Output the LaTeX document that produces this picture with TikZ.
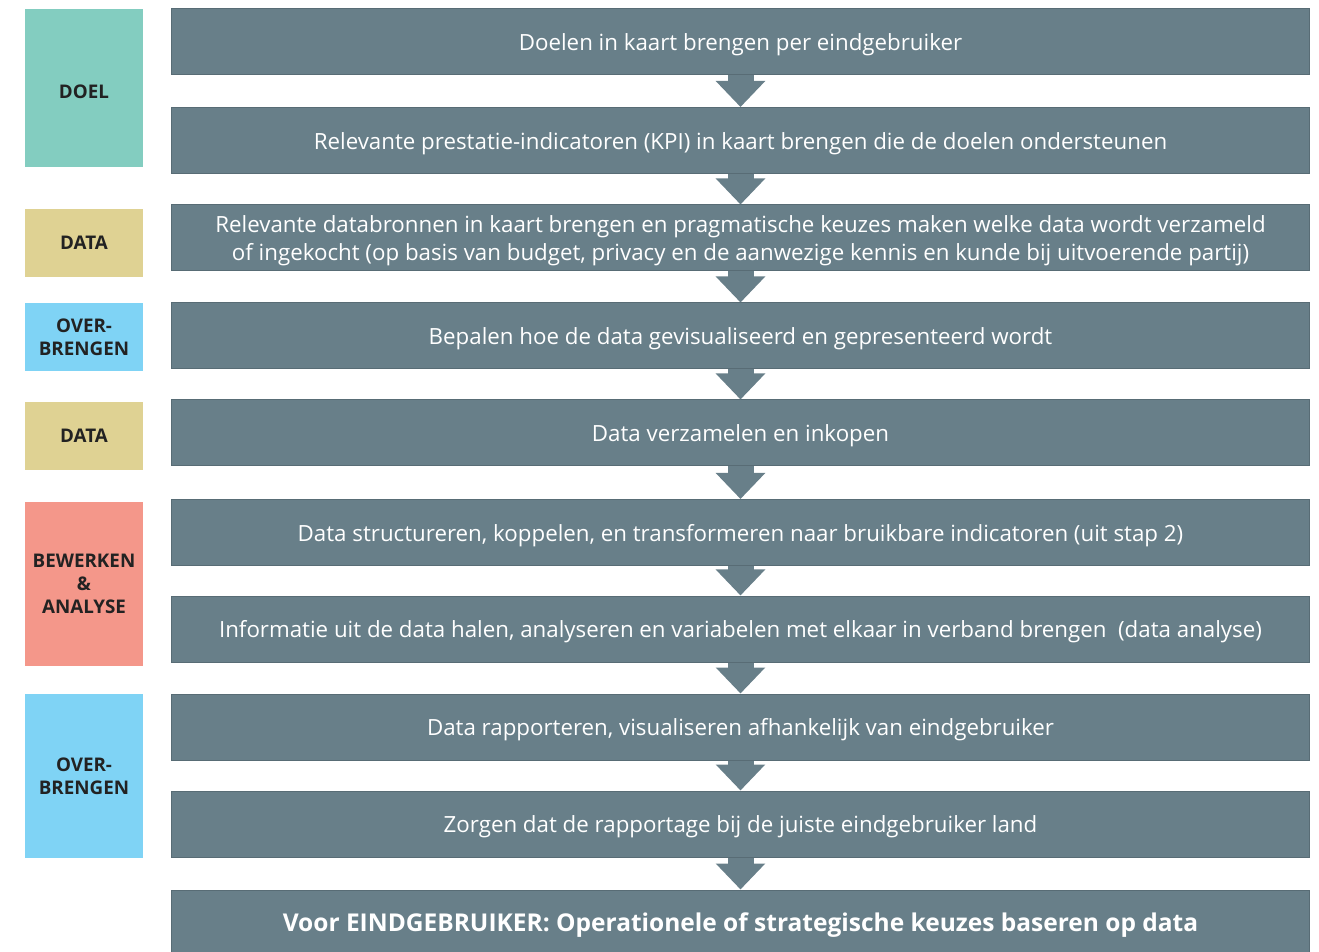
\documentclass[tikz,border=0pt]{standalone}
\usepackage{fontspec}
\setmainfont{Open Sans}
\usepackage{tikz}
\usetikzlibrary{arrows.meta}

\definecolor{stapgrijs}{RGB}{104,127,137}
\definecolor{staprand}{RGB}{88,108,117}
\definecolor{doelgroen}{RGB}{131,205,192}
\definecolor{datageel}{RGB}{223,210,147}
\definecolor{overblauw}{RGB}{127,211,245}
\definecolor{bewerkrood}{RGB}{244,151,138}
\definecolor{labeltekst}{RGB}{34,34,34}

\tikzset{
	stapbox/.style = {fill=stapgrijs, draw=staprand, line width=0.5pt, text=white,
		minimum width=569pt, minimum height=33pt, inner sep=0pt, align=center,
		text height=9pt, text depth=0.2pt,
		font=\fontsize{11.15}{14}\selectfont},
	fase/.style = {fill=#1, minimum width=59pt, inner sep=0pt, align=center,
		text=labeltekst, font=\fontsize{9.4}{11.4}\selectfont\bfseries},
	pijl/.style = {stapgrijs, line width=13pt, -{Triangle[width=24pt,length=13pt]}}
}

\begin{document}
\begin{tikzpicture}[x=0.5pt, y=-0.5pt]
\useasboundingbox (0,0) rectangle (1319,952);

% fases links
\node[fase=doelgroen, minimum height=79pt, text height=10.6pt, text depth=0pt] (f1) at (84,88) {DOEL};
\node[fase=datageel, minimum height=34pt] (f2) at (84,243) {DATA};
\node[fase=overblauw, minimum height=34pt] (f3) at (84,337) {OVER-\\BRENGEN};
\node[fase=datageel, minimum height=34pt] (f4) at (84,436) {DATA};
\node[fase=bewerkrood, minimum height=82pt] (f5) at (84,584) {BEWERKEN\\\&\\ANALYSE};
\node[fase=overblauw, minimum height=82pt] (f6) at (84,776) {OVER-\\BRENGEN};

% stappen
\node[stapbox] (s1) at (740.5,42) {Doelen in kaart brengen per eindgebruiker};
\node[stapbox] (s2) at (740.5,140.5) {Relevante prestatie-indicatoren (KPI) in kaart brengen die de doelen ondersteunen};
\node[stapbox, text height={}, text depth={}] (s3) at (740.5,238) {\rule{0pt}{11.6pt}Relevante databronnen in kaart brengen en pragmatische keuzes maken welke data wordt verzameld\\of ingekocht (op basis van budget, privacy en de aanwezige kennis en kunde bij uitvoerende partij)};
\node[stapbox] (s4) at (740.5,336) {Bepalen hoe de data gevisualiseerd en gepresenteerd wordt};
\node[stapbox] (s5) at (740.5,433) {Data verzamelen en inkopen};
\node[stapbox] (s6) at (740.5,532.5) {Data structureren, koppelen, en transformeren naar bruikbare indicatoren (uit stap 2)};
\node[stapbox] (s7) at (740.5,629) {Informatie uit de data halen, analyseren en variabelen met elkaar in verband brengen~~(data analyse)};
\node[stapbox] (s8) at (740.5,727) {Data rapporteren, visualiseren afhankelijk van eindgebruiker};
\node[stapbox] (s9) at (740.5,824) {Zorgen dat de rapportage bij de juiste eindgebruiker land};
\node[stapbox, font=\fontsize{12.25}{14}\selectfont\bfseries] (s10) at (740.5,923) {Voor EINDGEBRUIKER: Operationele of strategische keuzes baseren op data};

\foreach \a [evaluate=\a as \b using int(\a+1)] in {1,...,9}
	\draw[pijl] (s\a.south) -- (s\b.north);
\end{tikzpicture}
\end{document}
